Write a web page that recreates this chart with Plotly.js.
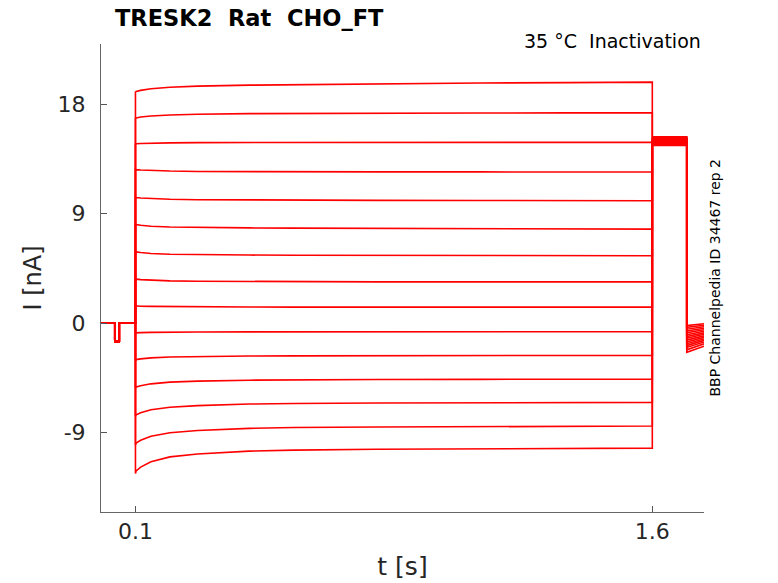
<!DOCTYPE html>
<html>
<head>
<meta charset="utf-8">
<script src="https://cdn.plot.ly/plotly-3.0.1.min.js"></script>
<style>
  html, body { margin: 0; padding: 0; background: #fff; }
  #plot { width: 778px; height: 583px; }
</style>
</head>
<body>
<div id="plot"></div>
<script>
// holding period with the short test pulse (same for every sweep)
const baseT = [0, 0.04, 0.04, 0.053, 0.053, 0.1];
const baseI = [0, 0, -1.5, -1.5, 0, 0];

// conditioning step, 0.1 s .. 1.6 s
const stepT = [0.1, 0.102, 0.115, 0.145, 0.2, 0.28, 0.43, 0.56, 0.8, 1.1, 1.35, 1.6];
const stepI = [
  [18.98, 19.03, 19.12, 19.25, 19.38, 19.47, 19.55, 19.59, 19.65, 19.72, 19.76, 19.80],
  [16.82, 16.86, 16.93, 17.02, 17.10, 17.16, 17.21, 17.23, 17.25, 17.26, 17.27, 17.28],
  [14.71, 14.73, 14.76, 14.79, 14.81, 14.83, 14.84, 14.85, 14.85, 14.85, 14.85, 14.85],
  [12.63, 12.61, 12.58, 12.53, 12.49, 12.46, 12.44, 12.43, 12.42, 12.42, 12.41, 12.41],
  [10.35, 10.32, 10.28, 10.22, 10.17, 10.14, 10.11, 10.10, 10.08, 10.07, 10.06, 10.05],
  [8.14, 8.10, 8.04, 7.96, 7.90, 7.86, 7.82, 7.80, 7.77, 7.75, 7.73, 7.72],
  [5.89, 5.85, 5.80, 5.72, 5.66, 5.62, 5.59, 5.58, 5.56, 5.55, 5.54, 5.53],
  [3.64, 3.61, 3.57, 3.52, 3.47, 3.44, 3.41, 3.40, 3.39, 3.39, 3.39, 3.39],
  [1.42, 1.41, 1.39, 1.37, 1.35, 1.33, 1.32, 1.31, 1.31, 1.31, 1.31, 1.31],
  [-0.80, -0.79, -0.78, -0.76, -0.74, -0.73, -0.72, -0.71, -0.71, -0.71, -0.71, -0.71],
  [-3.04, -3.00, -2.94, -2.86, -2.79, -2.74, -2.70, -2.69, -2.68, -2.67, -2.66, -2.65],
  [-5.32, -5.25, -5.14, -4.99, -4.85, -4.77, -4.69, -4.66, -4.64, -4.62, -4.61, -4.60],
  [-7.64, -7.53, -7.36, -7.12, -6.91, -6.78, -6.65, -6.60, -6.57, -6.54, -6.52, -6.51],
  [-10.02, -9.86, -9.63, -9.30, -9.01, -8.83, -8.65, -8.58, -8.54, -8.51, -8.48, -8.46],
  [-12.35, -12.14, -11.83, -11.40, -10.99, -10.76, -10.52, -10.44, -10.37, -10.33, -10.29, -10.27]
];

// test pulse 1.6 .. 1.7 s, then tail 1.7 .. 1.75 s
const holdT = [1.6, 1.7];
const holdI = [15.3, 15.25, 15.2, 15.15, 15.1, 15.05, 15.0, 14.95, 14.9, 14.85, 14.8, 14.75, 14.7, 14.65, 14.6];
const tailT = [1.7, 1.75];
const tailStart = [-0.2, -0.35, -0.5, -0.65, -0.8, -0.95, -1.1, -1.25, -1.4, -1.55, -1.7, -1.85, -2.0, -2.2, -2.4];
const tailEnd = [-0.05, -0.17, -0.3, -0.42, -0.55, -0.67, -0.8, -0.92, -1.05, -1.17, -1.3, -1.42, -1.55, -1.7, -1.9];

const xTicks = [0.1, 1.6];
const yTicks = [-9, 0, 9, 18];

const font = 'DejaVu Sans, Liberation Sans, sans-serif';

let data = stepI.map(function(sweep, i) {
  return {
    x: baseT.concat(stepT, holdT, tailT),
    y: baseI.concat(sweep, [holdI[i], holdI[i]], [tailStart[i], tailEnd[i]]),
    mode: 'lines',
    type: 'scatter',
    line: {color: '#ff0000', width: 1.6},
    hoverinfo: 'skip'
  };
});

let layout = {
  width: 778,
  height: 583,
  margin: {l: 101, r: 74, t: 44, b: 71},
  showlegend: false,
  paper_bgcolor: '#ffffff',
  plot_bgcolor: '#ffffff',
  font: {family: font, color: '#262626'},
  xaxis: {
    range: [0, 1.75],
    tickvals: xTicks,
    ticktext: xTicks.map(String),
    ticks: 'inside',
    ticklen: 6,
    tickcolor: '#555',
    showline: true,
    linecolor: '#666',
    linewidth: 1,
    showgrid: false,
    zeroline: false,
    tickfont: {size: 22, family: font, color: '#262626'},
    title: {text: 't [s]', font: {size: 25, family: font, color: '#262626'}, standoff: 14}
  },
  yaxis: {
    range: [-15.52, 22.93],
    tickvals: yTicks,
    ticktext: yTicks.map(String),
    ticks: 'inside',
    ticklen: 6,
    tickcolor: '#555',
    ticklabelstandoff: 10,
    showline: true,
    linecolor: '#666',
    linewidth: 1,
    showgrid: false,
    zeroline: false,
    tickfont: {size: 22, family: font, color: '#262626'},
    title: {text: 'I [nA]', font: {size: 24, family: font, color: '#262626'}, standoff: 9}
  },
  annotations: [
    {
      text: '<b>TRESK2  Rat  CHO_FT</b>',
      xref: 'paper', yref: 'paper', x: 0.02, y: 1.0555,
      xanchor: 'left', yanchor: 'middle', showarrow: false,
      font: {size: 22.5, family: font, color: '#000'}
    },
    {
      text: '35 °C  Inactivation',
      xref: 'paper', yref: 'paper', x: 0.998, y: 1.006,
      xanchor: 'right', yanchor: 'middle', showarrow: false,
      font: {size: 19, family: font, color: '#000'}
    },
    {
      text: 'BBP Channelpedia ID 34467 rep 2',
      xref: 'paper', yref: 'paper', x: 1.019, y: 0.502,
      xanchor: 'center', yanchor: 'middle', showarrow: false,
      textangle: -90,
      font: {size: 14, family: font, color: '#000'}
    }
  ]
};

Plotly.newPlot('plot', data, layout, {staticPlot: true, displayModeBar: false});
</script>
</body>
</html>
